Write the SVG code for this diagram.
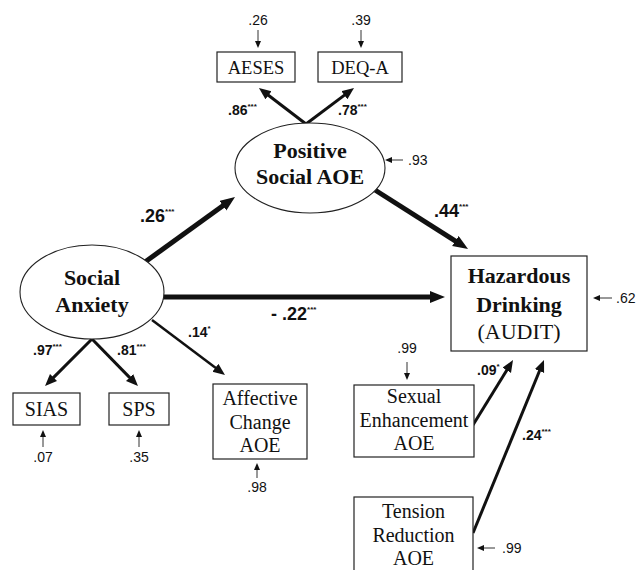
<svg xmlns="http://www.w3.org/2000/svg" width="638" height="570" viewBox="0 0 638 570">
<defs>
<style>
.box{fill:#fff;stroke:#222;stroke-width:1.2}
.ell{fill:#fff;stroke:#222;stroke-width:1.1}
.bt{font-family:"Liberation Serif",serif;font-size:20px;fill:#111;text-anchor:middle}
.bs{font-size:18.5px}
.bb{font-family:"Liberation Serif",serif;font-size:22px;font-weight:bold;fill:#111;text-anchor:middle}
.br{font-family:"Liberation Serif",serif;font-size:22px;fill:#111;text-anchor:middle}
.err{font-family:"Liberation Sans",sans-serif;font-size:14px;fill:#111}
.cs{font-family:"Liberation Sans",sans-serif;font-size:14px;font-weight:bold;fill:#111}
.cl{font-family:"Liberation Sans",sans-serif;font-size:18px;font-weight:bold;fill:#111}
.st{font-size:8px}
.thick{stroke:#111;stroke-width:5;fill:none;marker-end:url(#big)}
.med{stroke:#111;stroke-width:3;fill:none;marker-end:url(#mid)}
.thin{stroke:#333;stroke-width:1;fill:none;marker-end:url(#small)}
</style>
<marker id="big" markerUnits="userSpaceOnUse" markerWidth="16" markerHeight="14" refX="3" refY="6" orient="auto"><path d="M0,0 L15,6 L0,12 z" fill="#111"/></marker>
<marker id="mid" markerUnits="userSpaceOnUse" markerWidth="13" markerHeight="11" refX="3" refY="5" orient="auto"><path d="M0,0 L12,5 L0,10 z" fill="#111"/></marker>
<marker id="small" markerUnits="userSpaceOnUse" markerWidth="8" markerHeight="7" refX="1" refY="3" orient="auto"><path d="M0,0 L7,3 L0,6 z" fill="#111"/></marker>
</defs>
<rect width="638" height="570" fill="#fff"/>

<g id="connectors">
<line class="med" x1="306" y1="124" x2="266.1" y2="93.5"/>
<line class="med" x1="306" y1="124" x2="346.8" y2="93.4"/>
<line class="thick" x1="145" y1="262" x2="225.3" y2="204"/>
<line class="thick" x1="375" y1="190" x2="457.9" y2="242.6"/>
<line class="thick" x1="163" y1="297" x2="433" y2="297"/>
<line class="med" x1="92" y1="339" x2="51.4" y2="379.6"/>
<line class="med" x1="92" y1="339" x2="131.7" y2="379.6"/>
<line class="med" x1="152" y1="320" x2="217.8" y2="369.6" style="stroke-width:2.5"/>
<line class="med" x1="473" y1="425" x2="508.3" y2="367.7"/>
<line class="med" x1="473" y1="533" x2="540.6" y2="368.3"/>
<line class="thin" x1="258" y1="30" x2="258" y2="42"/>
<line class="thin" x1="361" y1="30" x2="361" y2="42"/>
<line class="thin" x1="403" y1="160" x2="391" y2="160"/>
<line class="thin" x1="612" y1="298" x2="599" y2="298"/>
<line class="thin" x1="43" y1="447" x2="43" y2="436"/>
<line class="thin" x1="139" y1="447" x2="139" y2="436"/>
<line class="thin" x1="257" y1="478" x2="257" y2="469"/>
<line class="thin" x1="407" y1="362" x2="407" y2="374"/>
<line class="thin" x1="495" y1="548" x2="483" y2="548"/>
</g>

<g id="labels">
<text class="err" x="258" y="25" text-anchor="middle">.26</text>
<text class="err" x="361" y="25" text-anchor="middle">.39</text>
<text class="err" x="408" y="165">.93</text>
<text class="err" x="616" y="303">.62</text>
<text class="err" x="43" y="462" text-anchor="middle">.07</text>
<text class="err" x="139" y="462" text-anchor="middle">.35</text>
<text class="err" x="257" y="492" text-anchor="middle">.98</text>
<text class="err" x="407" y="353" text-anchor="middle">.99</text>
<text class="err" x="502" y="553">.99</text>
<text class="cs" x="228" y="115">.86<tspan class="st" dy="-6">***</tspan></text>
<text class="cs" x="338" y="115">.78<tspan class="st" dy="-6">***</tspan></text>
<text class="cl" x="140" y="222">.26<tspan class="st" dy="-8">***</tspan></text>
<text class="cl" x="434" y="217">.44<tspan class="st" dy="-8">***</tspan></text>
<text class="cl" x="271" y="320">- .22<tspan class="st" dy="-8">***</tspan></text>
<text class="cs" x="188" y="337">.14<tspan class="st" dy="-6">*</tspan></text>
<text class="cs" x="33" y="355">.97<tspan class="st" dy="-6">***</tspan></text>
<text class="cs" x="117" y="355">.81<tspan class="st" dy="-6">***</tspan></text>
<text class="cs" x="477" y="375">.09<tspan class="st" dy="-6">*</tspan></text>
<text class="cs" x="522" y="440">.24<tspan class="st" dy="-6">***</tspan></text>
</g>

<g id="aeses"><rect class="box" x="217" y="52" width="78" height="30"/><text class="bt bs" x="256" y="74">AESES</text></g>
<g id="deqa"><rect class="box" x="318" y="52" width="84" height="30"/><text class="bt bs" x="360" y="74">DEQ-A</text></g>
<g id="positive-social-aoe"><ellipse class="ell" cx="310" cy="168" rx="75" ry="45"/><text class="bb" x="310" y="158">Positive</text><text class="bb" x="310" y="184">Social AOE</text></g>
<g id="social-anxiety"><ellipse class="ell" cx="92" cy="292" rx="72" ry="47"/><text class="bb" x="92" y="285">Social</text><text class="bb" x="92" y="312">Anxiety</text></g>
<g id="hazardous-drinking"><rect class="box" x="451" y="256" width="136" height="95"/><text class="bb" x="519" y="283">Hazardous</text><text class="bb" x="519" y="312">Drinking</text><text class="br" x="519" y="339">(AUDIT)</text></g>
<g id="sias"><rect class="box" x="13" y="393" width="67" height="32"/><text class="bt" x="46.5" y="416">SIAS</text></g>
<g id="sps"><rect class="box" x="109" y="393" width="60" height="32"/><text class="bt" x="139" y="416">SPS</text></g>
<g id="affective-change"><rect class="box" x="213" y="384" width="94" height="75"/><text class="bt" x="260" y="405">Affective</text><text class="bt" x="260" y="429">Change</text><text class="bt" x="260" y="452">AOE</text></g>
<g id="sexual-enhancement"><rect class="box" x="354" y="385" width="120" height="72"/><text class="bt" x="414" y="403">Sexual</text><text class="bt" x="414" y="427">Enhancement</text><text class="bt" x="414" y="450">AOE</text></g>
<g id="tension-reduction"><rect class="box" x="354" y="497" width="119" height="80"/><text class="bt" x="413.5" y="518">Tension</text><text class="bt" x="413.5" y="541.5">Reduction</text><text class="bt" x="413.5" y="565">AOE</text></g>
</svg>
